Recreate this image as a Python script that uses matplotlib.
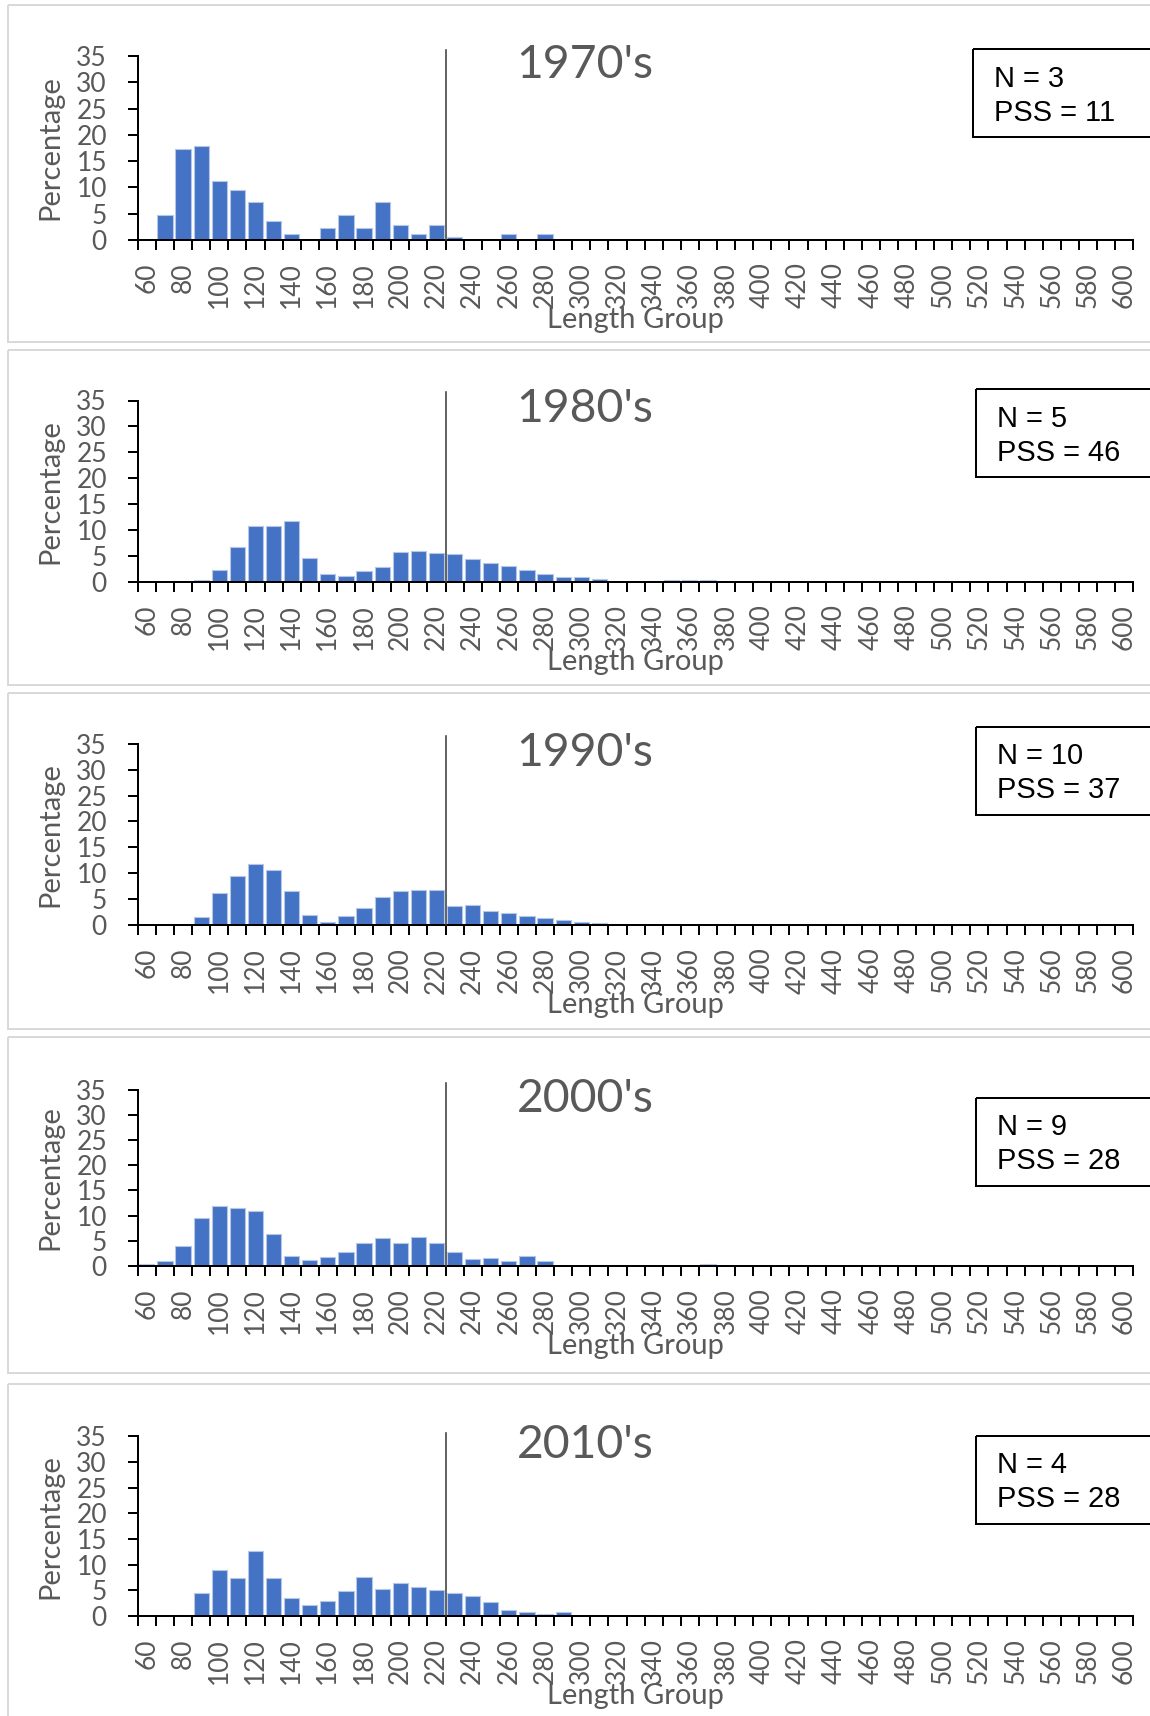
import matplotlib
matplotlib.use("Agg")
import matplotlib.pyplot as plt
from matplotlib.patches import Rectangle

# ---------------- data ----------------
categories = [60, 70, 80, 90, 100, 110, 120, 130, 140, 150, 160, 170, 180, 190,
              200, 210, 220, 230, 240, 250, 260, 270, 280, 290, 300, 310, 320,
              330, 340, 350, 360, 370, 380, 390, 400, 410, 420, 430, 440, 450,
              460, 470, 480, 490, 500, 510, 520, 530, 540, 550, 560, 570, 580,
              590, 600]

decades = ["1970's", "1980's", "1990's", "2000's", "2010's"]
n_values = [3, 5, 10, 9, 4]
pss_values = [11, 46, 37, 28, 28]

pct_1970s = [0, 4.75, 17.3, 17.9, 11.3, 9.5, 7.2, 3.6, 1.2, 0, 2.3, 4.75, 2.3, 7.2,
             2.9, 1.2, 2.9, 0.6, 0, 0, 1.2, 0, 1.2, 0, 0, 0, 0,
             0, 0, 0, 0, 0, 0, 0, 0, 0, 0, 0, 0, 0,
             0, 0, 0, 0, 0, 0, 0, 0, 0, 0, 0, 0, 0, 0, 0]
pct_1980s = [0, 0, 0, 0.3, 2.4, 6.7, 10.75, 10.75, 11.85, 4.7, 1.6, 1.2, 2.1, 2.8,
             5.7, 6.05, 5.5, 5.35, 4.45, 3.7, 3.0, 2.25, 1.6, 1.0, 0.9, 0.5, 0,
             0, 0.1, 0.3, 0.3, 0.3, 0, 0, 0.1, 0, 0, 0, 0, 0,
             0, 0, 0, 0, 0, 0, 0, 0, 0, 0, 0, 0, 0, 0, 0]
pct_1990s = [0, 0, 0, 1.55, 6.25, 9.4, 11.8, 10.55, 6.55, 1.9, 0.65, 1.7, 3.3, 5.5,
             6.55, 6.75, 6.75, 3.65, 3.9, 2.75, 2.25, 1.75, 1.35, 1.05, 0.5, 0.45, 0.1,
             0.05, 0.05, 0.25, 0, 0, 0, 0, 0, 0, 0, 0, 0, 0,
             0, 0, 0, 0, 0, 0, 0, 0, 0, 0, 0, 0, 0, 0, 0]
pct_2000s = [0.4, 1.0, 3.9, 9.5, 11.9, 11.45, 10.9, 6.3, 2.0, 1.25, 1.8, 2.8, 4.6, 5.6,
             4.5, 5.75, 4.5, 2.7, 1.4, 1.5, 1.0, 2.0, 1.0, 0, 0, 0.1, 0.1,
             0, 0, 0, 0, 0.45, 0, 0, 0, 0, 0, 0, 0, 0,
             0, 0, 0, 0, 0, 0, 0, 0, 0, 0, 0, 0, 0, 0, 0]
pct_2010s = [0, 0, 0.25, 4.55, 9.0, 7.4, 12.65, 7.4, 3.5, 2.15, 2.9, 4.8, 7.65, 5.3,
             6.35, 5.6, 5.05, 4.55, 3.95, 2.65, 1.1, 0.8, 0.3, 0.7, 0, 0.15, 0,
             0, 0.15, 0, 0, 0.15, 0, 0, 0.15, 0, 0, 0.15, 0, 0,
             0, 0, 0, 0, 0, 0, 0, 0, 0, 0, 0, 0, 0, 0, 0]
series = [pct_1970s, pct_1980s, pct_1990s, pct_2000s, pct_2010s]

y_ticks = [0, 5, 10, 15, 20, 25, 30, 35]
cutoff_group = 220   # vertical reference line after this length group

# ---------------- layout (pixels) ----------------
W, H = 1150, 1716
DPI = 100
ax_left, ax_right = 137.8, 1133.3
ax_tops = [56, 400.5, 743.7, 1089.5, 1436.4]
ax_bottoms = [240, 582, 925, 1266, 1616]
line_tops = [50, 391.7, 736, 1083, 1433]
panel_tops = [5, 350, 692.7, 1037, 1384]
panel_bottoms = [341.7, 685, 1028.5, 1373, 1730]
box_tops = [49.2, 389, 726.5, 1097.5, 1435.6]
box_lefts = [972.7, 976, 976, 976, 976]
box_h = 88

GRAY = "#595959"
BAR = "#4472C4"
FONT = "Lato"

fig = plt.figure(figsize=(W / DPI, H / DPI), dpi=DPI)
fig.patch.set_facecolor("white")

bg = fig.add_axes([0, 0, 1, 1])
bg.set_xlim(0, W)
bg.set_ylim(H, 0)
bg.axis("off")

px = 0.72  # points per pixel at 100 dpi

for i in range(5):
    # panel border
    bg.add_patch(Rectangle((8.3, panel_tops[i]), 1200, panel_bottoms[i] - panel_tops[i],
                           fill=False, edgecolor="#d9d9d9", linewidth=2 * px))
    top, bot = ax_tops[i], ax_bottoms[i]
    ax = fig.add_axes([ax_left / W, 1 - bot / H, (ax_right - ax_left) / W, (bot - top) / H])
    ax.set_facecolor("none")
    x = list(range(len(categories)))
    ax.bar(x, series[i], width=0.84, color=BAR, edgecolor="#b4c7e7", linewidth=0.8, zorder=2)
    ax.set_xlim(-0.5, len(categories) - 0.5)
    ax.set_ylim(0, 35)
    ax.set_yticks(y_ticks)
    ax.set_yticklabels([str(v) for v in y_ticks])
    # labels every other category, tick marks at category boundaries
    lab_idx = [k for k in x if k % 2 == 0]
    ax.set_xticks(lab_idx)
    ax.set_xticklabels([str(categories[k]) for k in lab_idx], rotation=90, va="top", ha="center")
    ax.set_xticks([k - 0.5 for k in range(len(categories) + 1)], minor=True)
    ax.tick_params(axis="x", which="major", length=0, pad=9 + 7.2, labelsize=19,
                   labelcolor=GRAY, labelfontfamily=FONT)
    ax.tick_params(axis="x", which="minor", length=7.2, width=2 * px, color="black", direction="out")
    ax.tick_params(axis="y", length=7.2, width=2 * px, color="black", direction="out", pad=15,
                   labelsize=19, labelcolor=GRAY, labelfontfamily=FONT)
    for s in ["top", "right"]:
        ax.spines[s].set_visible(False)
    for s in ["left", "bottom"]:
        ax.spines[s].set_linewidth(2 * px)
        ax.spines[s].set_color("black")
        ax.spines[s].set_zorder(3)
    # vertical reference line
    xl = categories.index(cutoff_group) + 0.5
    scale = (bot - top) / 35.0
    ytop = 35 + (top - line_tops[i]) / scale
    ax.plot([xl, xl], [0, ytop], color="#404040", linewidth=1.6 * px, clip_on=False, zorder=4)

    # title
    bg.text(585, top + 22, decades[i], fontsize=33.4, color=GRAY, family=FONT,
            ha="center", va="baseline")
    # axis labels
    bg.text(50, (top + bot) / 2, "Percentage", fontsize=21, color=GRAY, family=FONT,
            rotation=90, ha="center", va="center")
    bg.text((ax_left + ax_right) / 2, bot + 88, "Length Group", fontsize=21, color=GRAY,
            family=FONT, ha="center", va="baseline")
    # annotation box
    bt, bl = box_tops[i], box_lefts[i]
    bg.add_patch(Rectangle((bl, bt), 400, box_h, fill=False, edgecolor="black",
                           linewidth=2 * px, zorder=5))
    bg.text(bl + 21, bt + 37.7, f"N = {n_values[i]}", fontsize=20.9, color="black",
            family="Liberation Sans", ha="left", va="baseline")
    bg.text(bl + 21, bt + 71.7, f"PSS = {pss_values[i]}", fontsize=20.9, color="black",
            family="Liberation Sans", ha="left", va="baseline")

fig.savefig("out.png", dpi=DPI)
